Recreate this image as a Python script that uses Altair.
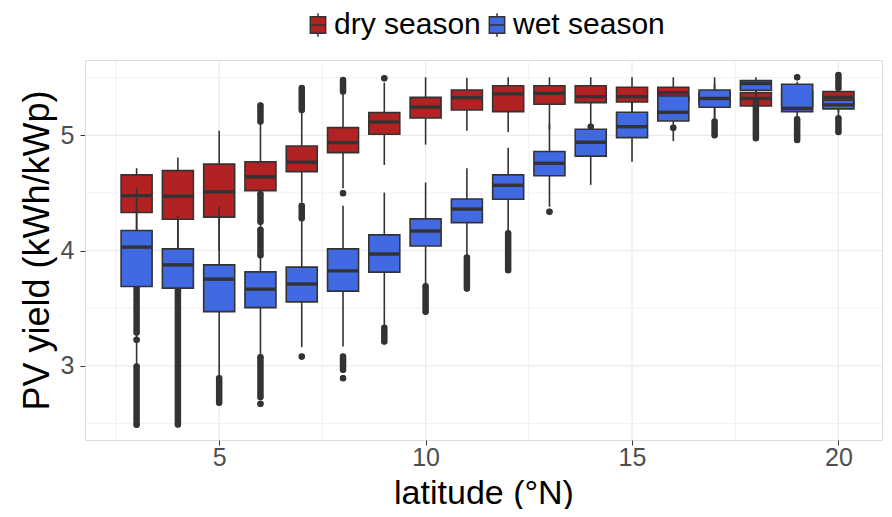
import altair as alt
import pandas as pd

# ---------------- data ----------------
lats = list(range(3, 21))
seasons = ["dry season", "wet season"]
season_colors = ["#B22222", "#4169E1"]

dry_q1 = [4.33, 4.272, 4.29, 4.52, 4.685, 4.85, 5.01, 5.15, 5.22, 5.206, 5.27, 5.284, 5.29, 5.30, 5.27, 5.255, 5.25, 5.27]
dry_med = [4.477, 4.472, 4.51, 4.64, 4.767, 4.937, 5.116, 5.246, 5.327, 5.36, 5.365, 5.336, 5.336, 5.37, 5.33, 5.32, 5.32, 5.33]
dry_q3 = [4.657, 4.694, 4.75, 4.77, 4.908, 5.067, 5.197, 5.33, 5.394, 5.43, 5.43, 5.43, 5.417, 5.417, 5.37, 5.37, 5.38, 5.38]
dry_lo = [4.18, 4.02, 4.0, 4.51, 4.42, 4.54, 4.743, 4.92, 5.04, 5.03, 5.05, 5.09, 5.2, 5.2, 5.15, 5.1, 5.21, 5.2]
dry_hi = [4.715, 4.807, 5.04, 5.105, 5.206, 5.36, 5.457, 5.504, 5.5, 5.504, 5.504, 5.504, 5.504, 5.504, 5.45, 5.45, 5.44, 5.40]
# outlier runs: (latitude, lowest value, highest value)
dry_out_lat = [6, 6, 6, 7, 7, 8, 8, 9, 16, 20]
dry_out_lo = [4.25, 3.96, 5.12, 5.22, 4.28, 5.38, 4.498, 5.495, 5.067, 5.41]
dry_out_hi = [4.49, 4.18, 5.26, 5.41, 4.39, 5.48, 4.498, 5.495, 5.067, 5.524]

wet_q1 = [3.688, 3.674, 3.47, 3.505, 3.555, 3.648, 3.813, 4.04, 4.243, 4.446, 4.65, 4.82, 4.98, 5.125, 5.244, 5.39, 5.206, 5.23]
wet_med = [4.03, 3.876, 3.752, 3.665, 3.71, 3.824, 3.97, 4.17, 4.36, 4.567, 4.758, 4.94, 5.075, 5.2, 5.32, 5.45, 5.235, 5.264]
wet_q3 = [4.174, 4.015, 3.876, 3.815, 3.856, 4.015, 4.136, 4.275, 4.448, 4.657, 4.86, 5.053, 5.2, 5.342, 5.394, 5.475, 5.443, 5.305]
wet_lo = [2.99, 3.66, 2.90, 3.08, 3.162, 3.167, 3.34, 3.70, 3.95, 4.16, 4.38, 4.57, 4.77, 4.95, 5.13, 5.3, 5.148, 5.16]
wet_hi = [4.54, 4.30, 4.38, 4.25, 4.28, 4.39, 4.503, 4.59, 4.715, 4.893, 5.1, 5.06, 5.29, 5.342, 5.504, 5.504, 5.466, 5.33]
wet_out_lat = [3, 3, 3, 3, 4, 5, 6, 6, 7, 8, 8, 9, 10, 11, 12, 13, 14, 17, 18, 19, 19, 20]
wet_out_lo = [3.56, 3.29, 3.225, 2.488, 2.49, 2.68, 2.73, 2.67, 3.08, 2.965, 2.893, 3.21, 3.47, 3.67, 3.83, 4.338, 5.075, 5.0, 4.975, 4.96, 5.504, 5.03]
wet_out_hi = [3.675, 3.53, 3.225, 2.994, 3.66, 2.893, 3.075, 2.67, 3.08, 3.08, 2.893, 3.33, 3.69, 3.94, 4.15, 4.338, 5.075, 5.12, 5.29, 5.14, 5.504, 5.148]

x_major = [5, 10, 15, 20]
x_minor = [2.5, 7.5, 12.5, 17.5]
y_major = [3, 4, 5]
y_minor = [2.5, 3.5, 4.5, 5.5]

# ---------------- tables ----------------
box_tables = {
    "dry season": pd.DataFrame({"lat": lats, "q1": dry_q1, "med": dry_med, "q3": dry_q3,
                                "lo": dry_lo, "hi": dry_hi, "season": "dry season"}),
    "wet season": pd.DataFrame({"lat": lats, "q1": wet_q1, "med": wet_med, "q3": wet_q3,
                                "lo": wet_lo, "hi": wet_hi, "season": "wet season"}),
}
out_tables = {
    "dry season": pd.DataFrame({"lat": dry_out_lat, "olo": dry_out_lo, "ohi": dry_out_hi}),
    "wet season": pd.DataFrame({"lat": wet_out_lat, "olo": wet_out_lo, "ohi": wet_out_hi}),
}

xs = alt.Scale(domain=[1.75, 21.055], nice=False, zero=False, padding=0)
ys = alt.Scale(domain=[2.356, 5.654], nice=False, zero=False, padding=0)
xaxis = alt.Axis(values=x_major, grid=False, domain=False, tickColor="#333333", tickSize=5,
                 labelFontSize=25, labelColor="#4D4D4D", labelPadding=0,
                 titleFontSize=34, titleFontWeight="normal", titleColor="#000000",
                 titleBaseline="alphabetic", titleY=63)
yaxis = alt.Axis(values=y_major, grid=False, domain=False, tickColor="#333333", tickSize=5,
                 labelFontSize=25, labelColor="#4D4D4D", labelPadding=6,
                 titleFontSize=36, titleFontWeight="normal", titleColor="#000000", titlePadding=4)


def X(field):
    return alt.X(field, type="quantitative", scale=xs, axis=xaxis, title="latitude (°N)")


def Y(field):
    return alt.Y(field, type="quantitative", scale=ys, axis=yaxis, title="PV yield (kWh/kWp)")


grid_x = pd.DataFrame({"v": x_major + x_minor, "kind": ["major"] * 4 + ["minor"] * 4})
grid_y = pd.DataFrame({"v": y_major + y_minor, "kind": ["major"] * 3 + ["minor"] * 4})
gx = alt.Chart(grid_x).mark_rule(color="#EBEBEB").encode(
    x=X("v"), strokeWidth=alt.StrokeWidth("kind:N", scale=alt.Scale(domain=["major", "minor"], range=[1.2, 0.7]), legend=None))
gy = alt.Chart(grid_y).mark_rule(color="#EBEBEB").encode(
    y=Y("v"), strokeWidth=alt.StrokeWidth("kind:N", scale=alt.Scale(domain=["major", "minor"], range=[1.2, 0.7]), legend=None))

box_path = "M-0.75,-0.8H0.75V0.8H-0.75Z M-0.75,0H0.75 M0,-0.8V-1.15 M0,0.8V1.15"
fill_enc = alt.Fill("season:N", title=None,
                    scale=alt.Scale(domain=seasons, range=season_colors),
                    legend=alt.Legend(orient="none", legendX=218, legendY=-50, direction="horizontal",
                                      symbolType=box_path, symbolSize=420, symbolStrokeColor="#333333",
                                      symbolStrokeWidth=1.5, symbolOpacity=1, labelFontSize=30,
                                      labelColor="#000000", labelOffset=1, columnPadding=1,
                                      labelLimit=300))

layers = [gx, gy]
for s in seasons:
    b = alt.Chart(box_tables[s])
    o = alt.Chart(out_tables[s])
    layers += [
        o.mark_rule(color="#333333", strokeWidth=6.5, strokeCap="round").encode(x=X("lat"), y=Y("olo"), y2="ohi"),
        o.mark_circle(color="#333333", size=33, opacity=1).encode(x=X("lat"), y=Y("olo")),
        o.mark_circle(color="#333333", size=33, opacity=1).encode(x=X("lat"), y=Y("ohi")),
        b.mark_rule(color="#333333", strokeWidth=1.6).encode(x=X("lat"), y=Y("lo"), y2="q1"),
        b.mark_rule(color="#333333", strokeWidth=1.6).encode(x=X("lat"), y=Y("q3"), y2="hi"),
        b.mark_bar(size=31, stroke="#333333", strokeWidth=1.6, opacity=1).encode(x=X("lat"), y=Y("q1"), y2="q3", fill=fill_enc),
        b.mark_tick(orient="horizontal", size=31, thickness=3.4, color="#333333", opacity=1).encode(x=X("lat"), y=Y("med")),
    ]

chart = alt.layer(*layers).properties(
    width=797, height=380,
    autosize=alt.AutoSizeParams(type="none"),
    padding={"left": 77, "top": 52, "right": 2, "bottom": 69},
).configure_view(stroke="#888888", strokeWidth=1).configure(
    font="Liberation Sans"
)

chart.save("out.html", embed_options={"renderer": "svg", "actions": False})
